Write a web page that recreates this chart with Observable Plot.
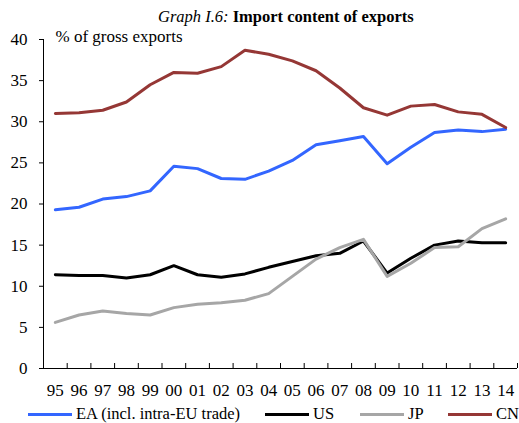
<!DOCTYPE html>
<html><head><meta charset="utf-8">
<script src="https://cdn.jsdelivr.net/npm/d3@7"></script>
<script src="https://cdn.jsdelivr.net/npm/@observablehq/plot@0.6"></script>
<style>
html,body{margin:0;padding:0;background:#fff;overflow:hidden}
body{width:519px;height:423px;font-family:"Liberation Serif","Times New Roman",serif;color:#000}
#title{height:28px;box-sizing:border-box;padding-top:7px;padding-left:158px;text-align:left;font-size:16.5px;line-height:19px;white-space:nowrap}
#chart svg{display:block}
#legend{position:relative;height:23px;font-size:16.5px}
.item{position:absolute;top:0;height:28px;display:flex;align-items:center;white-space:nowrap}
.sw{display:inline-block;width:44px;height:3px;margin-right:4px}
</style>
</head><body>
<div id="title"><i>Graph I.6:</i> <b>Import content of exports</b></div>
<div id="chart"></div>
<div id="legend"></div>
<script>
const years = ["95","96","97","98","99","00","01","02","03","04","05","06","07","08","09","10","11","12","13","14"];
const ea = [19.3,19.6,20.6,20.9,21.6,24.6,24.3,23.1,23.0,24.0,25.3,27.2,27.7,28.2,24.9,26.9,28.7,29.0,28.8,29.1];
const us = [11.4,11.3,11.3,11.0,11.4,12.5,11.4,11.1,11.5,12.3,13.0,13.7,14.0,15.5,11.6,13.4,15.0,15.5,15.3,15.3];
const jp = [5.6,6.5,7.0,6.7,6.5,7.4,7.8,8.0,8.3,9.1,11.2,13.3,14.7,15.7,11.2,12.8,14.7,14.8,17.0,18.2];
const cn = [31.0,31.1,31.4,32.4,34.5,36.0,35.9,36.7,38.7,38.2,37.4,36.2,34.1,31.7,30.8,31.9,32.1,31.2,30.9,29.3];
const seriesNames = ["EA (incl. intra-EU trade)","US","JP","CN"];
const colors = ["#3366FF","#000000","#A6A6A6","#953735"];
const yTicks = [0,5,10,15,20,25,30,35,40];
const yLabel = "% of gross exports";

const rows = [];
[ea, us, jp, cn].forEach((vals, s) => vals.forEach((v, i) => rows.push({i, v, s: seriesNames[s]})));
const x0 = -0.5, x1 = years.length - 0.5;
const bounds = d3.range(years.length).map(i => i + 0.5);

const H = 372, MT = 11, MB = 32;
const chart = Plot.plot({
  width: 519, height: H,
  marginLeft: 43, marginRight: 2, marginTop: MT, marginBottom: MB,
  style: {fontFamily: '"Liberation Serif","Times New Roman",serif', fontSize: "17px", background: "white", color: "black"},
  x: {domain: [x0, x1], label: null},
  y: {domain: [0, 40], label: null},
  color: {domain: seriesNames, range: colors},
  marks: [
    Plot.axisY({ticks: yTicks, tickSize: 4, tickPadding: 12, label: null, fontSize: 17}),
    Plot.axisX({ticks: d3.range(years.length), tickFormat: i => years[i], tickSize: 0, tickPadding: 15, label: null, fontSize: 17}),
    Plot.tickX(bounds, {x: d => d, stroke: "black", insetTop: H - MT - MB - 5}),
    Plot.ruleX([x0], {stroke: "black"}),
    Plot.ruleY([0], {stroke: "black"}),
    Plot.line(rows, {x: "i", y: "v", z: "s", stroke: "s", strokeWidth: 3, strokeLinejoin: "round"}),
    Plot.text([yLabel], {text: d => d, frameAnchor: "top-left", textAnchor: "start", lineAnchor: "bottom", dx: 12, dy: 2, fontSize: 17})
  ]
});
document.getElementById("chart").appendChild(chart);

const legendLefts = [28, 265, 360, 448];
const legend = document.getElementById("legend");
seriesNames.forEach((name, k) => {
  const it = document.createElement("div");
  it.className = "item";
  it.style.left = legendLefts[k] + "px";
  const sw = document.createElement("span");
  sw.className = "sw";
  sw.style.background = colors[k];
  it.appendChild(sw);
  it.appendChild(document.createTextNode(name));
  legend.appendChild(it);
});
</script>
</body></html>
